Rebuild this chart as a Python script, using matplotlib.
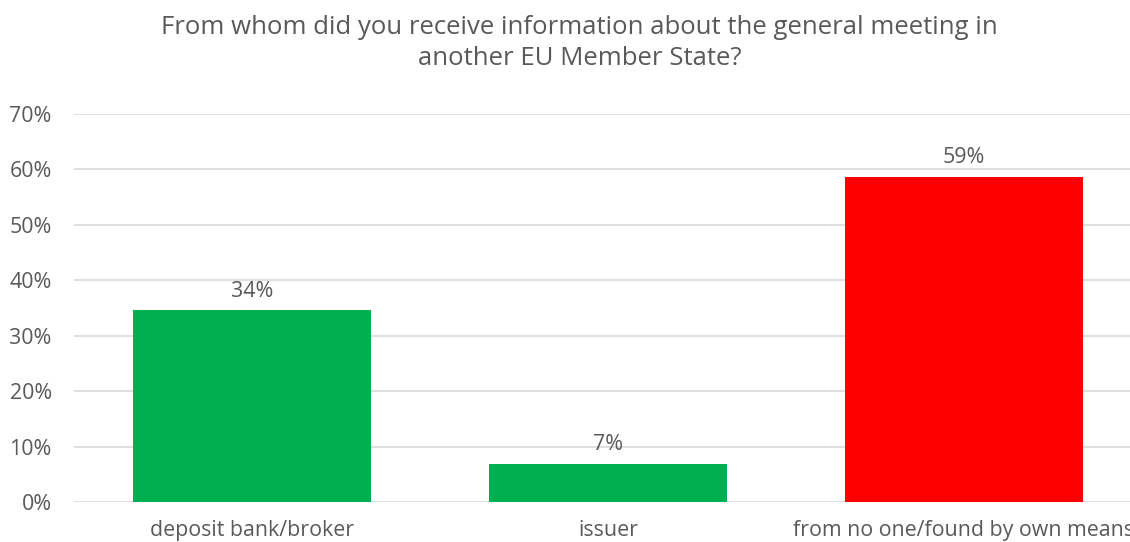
import matplotlib.pyplot as plt
from matplotlib.ticker import PercentFormatter

categories = ["deposit bank/broker", "issuer", "from no one/found by own means"]
values = [34.6, 6.9, 58.7]
labels = ["34%", "7%", "59%"]
colors = ["#00B050", "#00B050", "#FF0000"]

plt.rcParams['font.family'] = ['Open Sans', 'DejaVu Sans']
text_color = "#595959"

fig = plt.figure(figsize=(11.3, 5.42), dpi=100)
ax = fig.add_axes([0.0655, 0.0738, 0.945, 0.716])

x = range(len(categories))
bars = ax.bar(x, values, width=0.668, color=colors, zorder=3)
for b, lab in zip(bars, labels):
    ax.text(b.get_x() + b.get_width() / 2, b.get_height() + 1.5, lab,
            ha='center', va='bottom', fontsize=15.4, color=text_color)

ax.set_xlim(-0.5, 2.5)
ax.set_ylim(0, 70)
ax.set_yticks(range(0, 71, 10))
ax.yaxis.set_major_formatter(PercentFormatter(decimals=0))
ax.set_xticks(list(x))
ax.set_xticklabels(categories)
ax.grid(axis='y', color="#D9D9D9", linewidth=1.2, zorder=0)
ax.tick_params(axis='both', length=0, labelsize=15.4, colors=text_color)
ax.tick_params(axis='y', pad=16)
ax.tick_params(axis='x', pad=13)
for s in ax.spines.values():
    s.set_visible(False)

fig.text(0.513, 0.972, "From whom did you receive information about the general meeting in\nanother EU Member State?",
         ha='center', va='top', fontsize=18.5, color=text_color, linespacing=1.3)

fig.savefig("out.png", dpi=100)
